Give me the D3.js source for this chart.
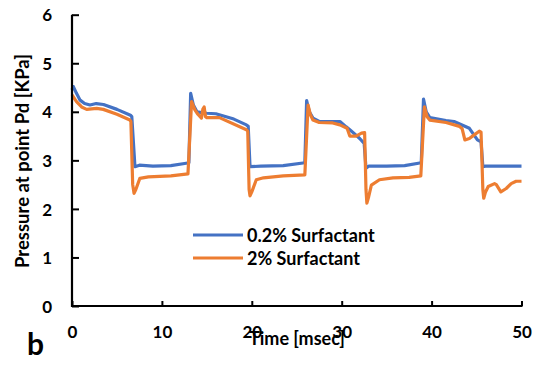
<html>
<script src="https://d3js.org/d3.v7.min.js"></script>
<style>
  body { margin: 0; background: #fff; }
  text { font-family: Lato, "Open Sans", sans-serif; font-weight: bold; }
</style>
<body>
<svg width="538" height="368"></svg>
<script>
// data (time in msec, pressure in KPa)
var lowTime = [0, 0.15, 0.5, 0.9, 1.4, 2.0, 2.7, 3.5, 5.0, 6.5, 6.65, 7.0, 7.5, 9.0, 11.0, 12.7, 13.0, 13.2, 13.5, 13.9, 15.0, 16.0, 18.0, 19.4, 19.6, 19.8, 21.0, 23.5, 25.9, 26.1, 26.4, 26.8, 27.5, 29.0, 29.8, 30.5, 30.9, 31.6, 32.0, 32.5, 32.7, 33.0, 35.0, 37.0, 38.85, 39.1, 39.4, 39.8, 41.6, 42.5, 44.2, 45.1, 45.5, 45.7, 46.0, 48.0, 50.0];
var lowP = [4.45, 4.52, 4.38, 4.24, 4.17, 4.14, 4.17, 4.15, 4.05, 3.93, 3.9, 2.87, 2.9, 2.88, 2.89, 2.94, 2.95, 4.38, 4.14, 4.0, 3.97, 3.96, 3.85, 3.73, 3.7, 2.87, 2.88, 2.89, 2.95, 4.23, 4.0, 3.87, 3.8, 3.8, 3.8, 3.69, 3.63, 3.52, 3.45, 3.35, 2.84, 2.88, 2.88, 2.89, 2.95, 4.26, 4.0, 3.88, 3.82, 3.8, 3.66, 3.42, 3.38, 2.87, 2.88, 2.88, 2.88];

var highTime = [0, 0.5, 1.07, 1.63, 2.74, 3.48, 5.0, 6.44, 6.55, 6.75, 6.9, 7.1, 7.55, 8.5, 11.0, 12.9, 13.3, 13.67, 14.0, 14.4, 14.55, 14.7, 14.85, 15.0, 16.4, 19.4, 19.55, 19.7, 19.8, 20.0, 20.5, 21.3, 23.5, 25.9, 26.26, 26.5, 26.8, 27.5, 29.0, 29.8, 30.6, 30.9, 31.6, 32.2, 32.55, 32.7, 32.8, 33.0, 33.3, 34.2, 35.7, 37.5, 38.8, 39.2, 39.5, 39.8, 41.6, 43.1, 43.4, 43.7, 44.2, 44.7, 45.3, 45.5, 45.7, 45.8, 46.0, 46.3, 47.0, 47.2, 47.7, 48.3, 48.85, 49.4, 50.0];
var highP = [4.35, 4.21, 4.1, 4.05, 4.07, 4.05, 3.95, 3.83, 3.8, 2.5, 2.32, 2.4, 2.63, 2.66, 2.68, 2.72, 4.21, 4.04, 3.95, 3.87, 4.05, 4.1, 3.9, 3.88, 3.88, 3.63, 3.6, 2.4, 2.27, 2.35, 2.6, 2.64, 2.68, 2.7, 4.14, 3.95, 3.83, 3.78, 3.77, 3.73, 3.66, 3.5, 3.5, 3.56, 3.57, 2.4, 2.12, 2.25, 2.49, 2.6, 2.64, 2.65, 2.68, 4.1, 3.9, 3.83, 3.78, 3.7, 3.65, 3.42, 3.45, 3.52, 3.6, 3.58, 2.4, 2.22, 2.35, 2.46, 2.52, 2.5, 2.35, 2.42, 2.52, 2.57, 2.57];

var seriesNames = ["0.2% Surfactant", "2% Surfactant"];
var seriesColors = ["#4472C4", "#ED7D31"];
var xTicks = [0, 10, 20, 30, 40, 50];
var yTicks = [0, 1, 2, 3, 4, 5, 6];

var svg = d3.select("svg");
var x = d3.scaleLinear().domain([0, 50]).range([72, 521.5]);
var y = d3.scaleLinear().domain([0, 6]).range([306, 14.7]);

// lines
var line = d3.line().x(function(d) { return x(d[0]); }).y(function(d) { return y(d[1]); });
var series = [d3.zip(lowTime, lowP), d3.zip(highTime, highP)];
svg.selectAll("path.series").data(series).enter().append("path")
  .attr("class", "series")
  .attr("d", line)
  .attr("fill", "none")
  .attr("stroke", function(d, i) { return seriesColors[i]; })
  .attr("stroke-width", 3.2)
  .attr("stroke-linejoin", "round");

// y axis (ticks point inward)
var gy = svg.append("g").attr("transform", "translate(" + x(0) + ",0)")
  .call(d3.axisRight(y).tickValues(yTicks).tickSize(7).tickSizeOuter(0).tickFormat(d3.format("d")));
// x axis
var gx = svg.append("g").attr("transform", "translate(0," + y(0) + ")")
  .call(d3.axisTop(x).tickValues(xTicks).tickSize(5).tickSizeOuter(0).tickFormat(d3.format("d")));

svg.selectAll(".domain").remove();
svg.selectAll(".tick line").attr("stroke", "#000").attr("stroke-width", 2);
gy.selectAll(".tick text").attr("x", -20).attr("dy", "0.36em").attr("text-anchor", "end")
  .attr("font-size", 17).attr("font-family", "Lato").attr("font-weight", "bold").attr("fill", "#000");
gx.selectAll(".tick text").attr("y", 32).attr("dy", 0)
  .attr("font-size", 17).attr("font-family", "Lato").attr("font-weight", "bold").attr("fill", "#000");

// axis lines
svg.append("line").attr("x1", x(0)).attr("x2", x(0)).attr("y1", y(6)).attr("y2", y(0) + 1)
  .attr("stroke", "black").attr("stroke-width", 2.2);
svg.append("line").attr("x1", x(0) - 1).attr("x2", x(50) + 1).attr("y1", y(0)).attr("y2", y(0))
  .attr("stroke", "black").attr("stroke-width", 2.2);

// axis titles
svg.append("text").attr("x", 297).attr("y", 345).attr("text-anchor", "middle")
  .attr("font-size", 18).text("Time [msec]");
svg.append("text").attr("transform", "translate(29,161) rotate(-90)").attr("text-anchor", "middle")
  .attr("font-size", 18.5).text("Pressure at point Pd [KPa]");
svg.append("text").attr("x", 27).attr("y", 355).attr("font-size", 30).text("b");

// legend
var leg = svg.selectAll("g.leg").data(seriesNames).enter().append("g")
  .attr("class", "leg")
  .attr("transform", function(d, i) { return "translate(193," + (235 + i * 23) + ")"; });
leg.append("line").attr("x1", 0).attr("x2", 50).attr("y1", 0).attr("y2", 0)
  .attr("stroke", function(d, i) { return seriesColors[i]; }).attr("stroke-width", 3);
leg.append("text").attr("x", 54).attr("y", 6.5).attr("font-size", 18).text(function(d) { return d; });
</script>
</body>
</html>
